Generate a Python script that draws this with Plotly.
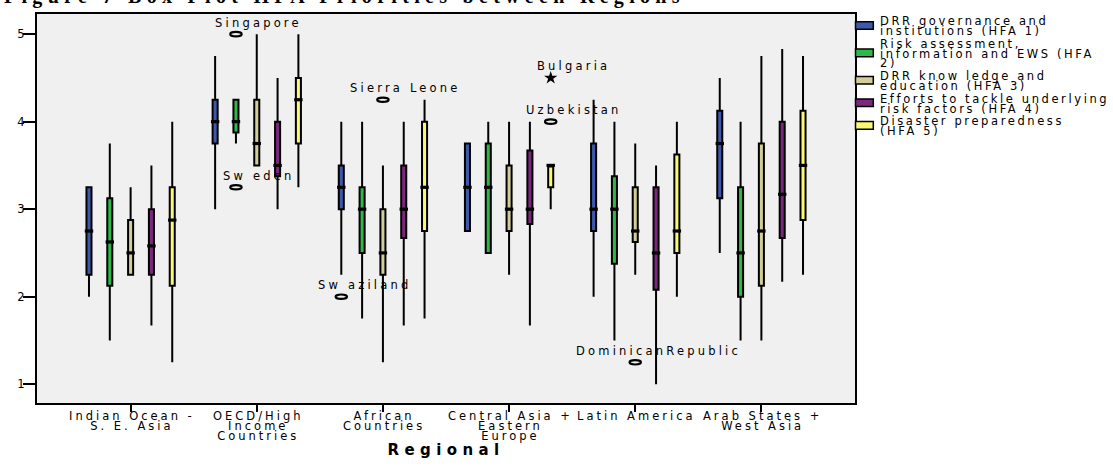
import plotly.graph_objects as go

# ---- categories -----------------------------------------------------------
regions = [
    "Indian Ocean - S. E. Asia",
    "OECD/High Income Countries",
    "African Countries",
    "Central Asia + Eastern Europe",
    "Latin America",
    "Arab States + West Asia",
]
region_tick_lines = [
    ["Indian Ocean -", "S. E. Asia"],
    ["OECD/High", "Income", "Countries"],
    ["African", "Countries"],
    ["Central Asia +", "Eastern", "Europe"],
    ["Latin America"],
    ["Arab States +", "West Asia"],
]

# ---- series (HFA priorities) ---------------------------------------------
series_labels = [
    "DRR governance and institutions (HFA 1)",
    "Risk assessment, information and EWS (HFA 2)",
    "DRR know ledge and education (HFA 3)",
    "Efforts to tackle underlying risk factors (HFA 4)",
    "Disaster preparedness (HFA 5)",
]
series_legend_lines = [
    ["DRR governance and", "institutions (HFA 1)"],
    ["Risk assessment,", "information and EWS (HFA", "2)"],
    ["DRR know ledge and", "education (HFA 3)"],
    ["Efforts to tackle underlying", "risk factors (HFA 4)"],
    ["Disaster preparedness", "(HFA 5)"],
]
series_colors = ["#3E58AC", "#2EB848", "#D3CE97", "#7C287D", "#FBF873"]

# box statistics per series, one value per region
hfa1_low = [2.0, 3.0, 2.25, 2.75, 2.0, 2.5]
hfa1_q1 = [2.25, 3.75, 3.0, 2.75, 2.75, 3.125]
hfa1_med = [2.75, 4.0, 3.25, 3.25, 3.0, 3.75]
hfa1_q3 = [3.25, 4.25, 3.5, 3.75, 3.75, 4.125]
hfa1_high = [3.25, 4.75, 4.0, 3.75, 4.25, 4.5]

hfa2_low = [1.5, 3.75, 1.75, 2.5, 1.5, 1.5]
hfa2_q1 = [2.125, 3.875, 2.5, 2.5, 2.375, 2.0]
hfa2_med = [2.625, 4.0, 3.0, 3.25, 3.0, 2.5]
hfa2_q3 = [3.125, 4.25, 3.25, 3.75, 3.375, 3.25]
hfa2_high = [3.75, 4.25, 4.0, 4.0, 4.0, 4.0]

hfa3_low = [2.25, 3.5, 1.25, 2.25, 2.25, 1.5]
hfa3_q1 = [2.25, 3.5, 2.25, 2.75, 2.625, 2.125]
hfa3_med = [2.5, 3.75, 2.5, 3.0, 2.75, 2.75]
hfa3_q3 = [2.875, 4.25, 3.0, 3.5, 3.25, 3.75]
hfa3_high = [3.25, 5.0, 3.5, 4.0, 3.75, 4.75]

hfa4_low = [1.67, 3.0, 1.67, 1.67, 1.0, 2.17]
hfa4_q1 = [2.25, 3.375, 2.67, 2.83, 2.08, 2.67]
hfa4_med = [2.58, 3.5, 3.0, 3.0, 2.5, 3.17]
hfa4_q3 = [3.0, 4.0, 3.5, 3.67, 3.25, 4.0]
hfa4_high = [3.5, 4.5, 4.0, 4.0, 3.5, 4.83]

hfa5_low = [1.25, 3.25, 1.75, 3.0, 2.0, 2.25]
hfa5_q1 = [2.125, 3.75, 2.75, 3.25, 2.5, 2.875]
hfa5_med = [2.875, 4.25, 3.25, 3.5, 2.75, 3.5]
hfa5_q3 = [3.25, 4.5, 4.0, 3.5, 3.625, 4.125]
hfa5_high = [4.0, 5.0, 4.25, 3.5, 4.0, 4.75]

# ---- outliers (o) and extreme values (*) ----------------------------------
outlier_names = ["Singapore", "Sw eden", "Sw aziland", "Sierra Leone", "Uzbekistan", "DominicanRepublic"]
outlier_region = [1, 1, 2, 2, 3, 4]
outlier_series = [1, 1, 0, 2, 4, 2]
outlier_values = [5.0, 3.25, 2.0, 4.25, 4.0, 1.25]

extreme_names = ["Bulgaria"]
extreme_region = [3]
extreme_series = [4]
extreme_values = [4.5]

y_ticks = [1, 2, 3, 4, 5]

# ---- geometry helpers ----------------------------------------------------
W, H = 1113, 466
L, R, T, B = 37, 855, 13, 404          # plot frame in pixels
SLOT = 0.165                           # distance between series within a region
FONT = "DejaVu Sans"
TXT = 11.5                             # glyph size of the small labels


def pos(region, series):
    return region + (series - 2) * SLOT


def px_x(p):
    return (p - L) / (R - L)


def px_y(p):
    return 1 - (p - T) / (B - T)


def spaced(text, px, size=TXT):
    return f"<span style='font-size:{size}px;letter-spacing:{px}px'>{text}</span>"


def block(lines, px):
    return "<br>".join(spaced(line, px) for line in lines)


lows = [hfa1_low, hfa2_low, hfa3_low, hfa4_low, hfa5_low]
q1s = [hfa1_q1, hfa2_q1, hfa3_q1, hfa4_q1, hfa5_q1]
meds = [hfa1_med, hfa2_med, hfa3_med, hfa4_med, hfa5_med]
q3s = [hfa1_q3, hfa2_q3, hfa3_q3, hfa4_q3, hfa5_q3]
highs = [hfa1_high, hfa2_high, hfa3_high, hfa4_high, hfa5_high]

fig = go.Figure()

for k in range(len(series_labels)):
    xs = [pos(i, k) for i in range(len(regions))]
    fig.add_trace(go.Box(
        x=xs,
        q1=q1s[k], median=meds[k], q3=q3s[k],
        lowerfence=lows[k], upperfence=highs[k],
        orientation="v",
        width=0.04,
        fillcolor=series_colors[k],
        line=dict(color="black", width=2),
        whiskerwidth=0,
        boxpoints=False,
        name=series_labels[k],
        showlegend=False,
    ))
    # heavier median bar across the box
    fig.add_trace(go.Scatter(
        x=xs, y=meds[k], mode="markers",
        marker=dict(symbol="line-ew", size=6, line=dict(color="black", width=3.2)),
        showlegend=False, hoverinfo="skip",
    ))

# outliers drawn as open ellipses
for r, s, v in zip(outlier_region, outlier_series, outlier_values):
    xc = pos(r, s)
    fig.add_shape(type="circle", xref="x", yref="y",
                  x0=xc - 0.045, x1=xc + 0.045, y0=v - 0.025, y1=v + 0.025,
                  line=dict(color="black", width=2.2), layer="above")

# extreme values drawn as stars
fig.add_trace(go.Scatter(
    x=[pos(r, s) for r, s in zip(extreme_region, extreme_series)],
    y=extreme_values, mode="markers",
    marker=dict(symbol="star", size=10, color="black"),
    showlegend=False, hoverinfo="skip",
))

# case labels
for name, r, s, v in zip(outlier_names + extreme_names,
                         outlier_region + extreme_region,
                         outlier_series + extreme_series,
                         outlier_values + extreme_values):
    fig.add_annotation(x=pos(r, s), y=v, xref="x", yref="y",
                       text=spaced(name, 3.2), showarrow=False, borderpad=0,
                       xshift=23, yshift=11.5, xanchor="center", yanchor="middle",
                       font=dict(family=FONT, size=TXT, color="black"))

# category labels under the ticks (line pitch set through the outer font size)
TICK_PITCH = 10.0
for i, lines in enumerate(region_tick_lines):
    mid = 417.5 + TICK_PITCH * (len(lines) - 1) / 2
    fig.add_annotation(x=i, xref="x", y=px_y(mid), yref="paper",
                       text=block(lines, 3.0), showarrow=False, borderpad=0,
                       align="center", xshift=1.5, xanchor="center", yanchor="middle",
                       font=dict(family=FONT, size=TICK_PITCH / 1.3, color="black"))

# legend: swatches and wrapped labels
LEG_PITCH = 9.5
line_y = 20.8
for k, lines in enumerate(series_legend_lines):
    ys = [line_y + LEG_PITCH * j for j in range(len(lines))]
    mid = sum(ys) / len(ys)
    fig.add_shape(type="rect", xref="paper", yref="paper",
                  x0=px_x(855.5), x1=px_x(873.3),
                  y0=px_y(mid - 0.9 + 3.8), y1=px_y(mid - 0.9 - 3.8),
                  fillcolor=series_colors[k], line=dict(color="black", width=1.5))
    fig.add_annotation(x=px_x(879), y=px_y(mid), xref="paper", yref="paper",
                       text=block(lines, 2.6), showarrow=False, borderpad=0,
                       align="left", xanchor="left", yanchor="middle",
                       font=dict(family=FONT, size=LEG_PITCH / 1.3, color="black"))
    line_y = ys[-1] + 13.2

# figure caption running off the top edge
fig.add_annotation(x=px_x(3), y=px_y(-4.75), xref="paper", yref="paper",
                   text=spaced("Figure 7 Box Plot HFA Priorities between Regions", 5.3, 20),
                   showarrow=False, borderpad=0, xanchor="left", yanchor="middle",
                   font=dict(family="Liberation Serif", size=20, color="black", weight="bold"))

fig.update_xaxes(
    range=[-0.742, len(regions) - 1 + 0.742],
    tickvals=list(range(len(regions))), showticklabels=False,
    ticks="outside", ticklen=7, tickwidth=2, tickcolor="black",
    showline=True, linecolor="black", linewidth=2, mirror=True,
    showgrid=False, zeroline=False,
    title=dict(text=spaced("Regional", 5.4, 15), standoff=33,
               font=dict(family=FONT, size=15, color="black", weight="bold")),
)
fig.update_yaxes(
    range=[0.785, 5.23], tickvals=y_ticks,
    ticks="outside", ticklen=12, tickwidth=2, tickcolor="black",
    tickfont=dict(family=FONT, size=TXT, color="black"),
    ticklabelstandoff=-4,
    showline=True, linecolor="black", linewidth=2, mirror=True,
    showgrid=False, zeroline=False,
)
fig.update_layout(
    width=W, height=H, autosize=False,
    margin=dict(l=L, r=W - R, t=T, b=H - B, pad=0),
    paper_bgcolor="white", plot_bgcolor="#F0F0F0",
    font=dict(family=FONT, size=TXT, color="black"),
    showlegend=False,
)

fig.write_html("out.html")
